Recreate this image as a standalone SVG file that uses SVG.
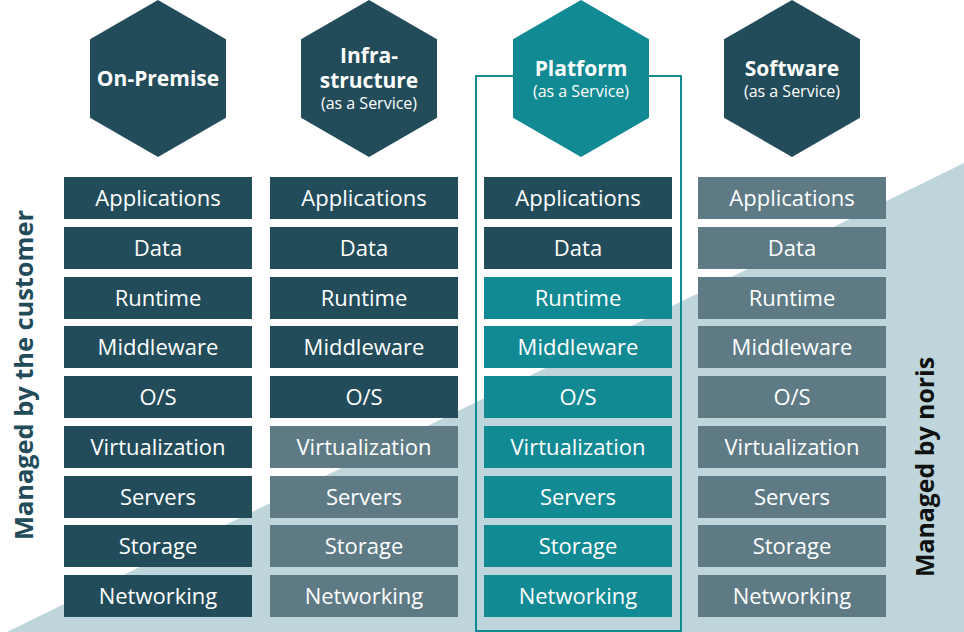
<svg xmlns="http://www.w3.org/2000/svg" width="964" height="632" viewBox="0 0 964 632">
<style>
  .dk{fill:#234c5a}
  .tl{fill:#128a94}
  .gy{fill:#5e7a84}
  .bt{font-family:"Open Sans","Liberation Sans",sans-serif;font-size:22px;fill:#ffffff;text-anchor:middle}
  .ht{font-family:"Open Sans","Liberation Sans",sans-serif;font-size:21px;font-weight:bold;fill:#ffffff;text-anchor:middle}
  .hs{font-family:"Open Sans","Liberation Sans",sans-serif;font-size:16px;fill:#ffffff;text-anchor:middle}
  .side{font-family:"Open Sans","Liberation Sans",sans-serif;font-size:25px;font-weight:bold;text-anchor:middle}
</style>
<rect x="0" y="0" width="964" height="632" fill="#ffffff"/>
<polygon points="7,632 964,163 964,632" fill="#bdd5db"/>

<rect id="platform-outline" x="476" y="76" width="205" height="555" fill="none" stroke="#128a94" stroke-width="2"/>

<g id="hex-onpremise">
  <polygon class="dk" points="158,0 226,39.3 226,117.7 158,157 90,117.7 90,39.3"/>
  <text class="ht" x="158" y="86">On-Premise</text>
</g>
<g id="hex-infrastructure">
  <polygon class="dk" points="369,0 437,39.3 437,117.7 369,157 301,117.7 301,39.3"/>
  <text class="ht" x="369" y="63">Infra-</text>
  <text class="ht" x="369" y="87.5">structure</text>
  <text class="hs" x="369" y="109">(as a Service)</text>
</g>
<g id="hex-platform">
  <polygon class="tl" points="581,0 649,39.3 649,117.7 581,157 513,117.7 513,39.3"/>
  <text class="ht" x="581" y="76">Platform</text>
  <text class="hs" x="581" y="97">(as a Service)</text>
</g>
<g id="hex-software">
  <polygon class="dk" points="792,0 860,39.3 860,117.7 792,157 724,117.7 724,39.3"/>
  <text class="ht" x="792" y="76">Software</text>
  <text class="hs" x="792" y="97">(as a Service)</text>
</g>

<g id="col-onpremise">
  <rect class="dk" x="64" y="177" width="188" height="42"/><text class="bt" x="158" y="205.5">Applications</text>
  <rect class="dk" x="64" y="227" width="188" height="42"/><text class="bt" x="158" y="255.5">Data</text>
  <rect class="dk" x="64" y="277" width="188" height="42"/><text class="bt" x="158" y="305.5">Runtime</text>
  <rect class="dk" x="64" y="326" width="188" height="42"/><text class="bt" x="158" y="354.5">Middleware</text>
  <rect class="dk" x="64" y="376" width="188" height="42"/><text class="bt" x="158" y="404.5">O/S</text>
  <rect class="dk" x="64" y="426" width="188" height="42"/><text class="bt" x="158" y="454.5">Virtualization</text>
  <rect class="dk" x="64" y="476" width="188" height="42"/><text class="bt" x="158" y="504.5">Servers</text>
  <rect class="dk" x="64" y="525" width="188" height="42"/><text class="bt" x="158" y="553.5">Storage</text>
  <rect class="dk" x="64" y="575" width="188" height="42"/><text class="bt" x="158" y="603.5">Networking</text>
</g>

<g id="col-infrastructure">
  <rect class="dk" x="270" y="177" width="188" height="42"/><text class="bt" x="364" y="205.5">Applications</text>
  <rect class="dk" x="270" y="227" width="188" height="42"/><text class="bt" x="364" y="255.5">Data</text>
  <rect class="dk" x="270" y="277" width="188" height="42"/><text class="bt" x="364" y="305.5">Runtime</text>
  <rect class="dk" x="270" y="326" width="188" height="42"/><text class="bt" x="364" y="354.5">Middleware</text>
  <rect class="dk" x="270" y="376" width="188" height="42"/><text class="bt" x="364" y="404.5">O/S</text>
  <rect class="gy" x="270" y="426" width="188" height="42"/><text class="bt" x="364" y="454.5">Virtualization</text>
  <rect class="gy" x="270" y="476" width="188" height="42"/><text class="bt" x="364" y="504.5">Servers</text>
  <rect class="gy" x="270" y="525" width="188" height="42"/><text class="bt" x="364" y="553.5">Storage</text>
  <rect class="gy" x="270" y="575" width="188" height="42"/><text class="bt" x="364" y="603.5">Networking</text>
</g>

<g id="col-platform">
  <rect class="dk" x="484" y="177" width="188" height="42"/><text class="bt" x="578" y="205.5">Applications</text>
  <rect class="dk" x="484" y="227" width="188" height="42"/><text class="bt" x="578" y="255.5">Data</text>
  <rect class="tl" x="484" y="277" width="188" height="42"/><text class="bt" x="578" y="305.5">Runtime</text>
  <rect class="tl" x="484" y="326" width="188" height="42"/><text class="bt" x="578" y="354.5">Middleware</text>
  <rect class="tl" x="484" y="376" width="188" height="42"/><text class="bt" x="578" y="404.5">O/S</text>
  <rect class="tl" x="484" y="426" width="188" height="42"/><text class="bt" x="578" y="454.5">Virtualization</text>
  <rect class="tl" x="484" y="476" width="188" height="42"/><text class="bt" x="578" y="504.5">Servers</text>
  <rect class="tl" x="484" y="525" width="188" height="42"/><text class="bt" x="578" y="553.5">Storage</text>
  <rect class="tl" x="484" y="575" width="188" height="42"/><text class="bt" x="578" y="603.5">Networking</text>
</g>

<g id="col-software">
  <rect class="gy" x="698" y="177" width="188" height="42"/><text class="bt" x="792" y="205.5">Applications</text>
  <rect class="gy" x="698" y="227" width="188" height="42"/><text class="bt" x="792" y="255.5">Data</text>
  <rect class="gy" x="698" y="277" width="188" height="42"/><text class="bt" x="792" y="305.5">Runtime</text>
  <rect class="gy" x="698" y="326" width="188" height="42"/><text class="bt" x="792" y="354.5">Middleware</text>
  <rect class="gy" x="698" y="376" width="188" height="42"/><text class="bt" x="792" y="404.5">O/S</text>
  <rect class="gy" x="698" y="426" width="188" height="42"/><text class="bt" x="792" y="454.5">Virtualization</text>
  <rect class="gy" x="698" y="476" width="188" height="42"/><text class="bt" x="792" y="504.5">Servers</text>
  <rect class="gy" x="698" y="525" width="188" height="42"/><text class="bt" x="792" y="553.5">Storage</text>
  <rect class="gy" x="698" y="575" width="188" height="42"/><text class="bt" x="792" y="603.5">Networking</text>
</g>

<g id="label-customer">
  <text class="side" fill="#234c5a" transform="translate(32.5,375) rotate(-90)" textLength="330" lengthAdjust="spacingAndGlyphs">Managed by the customer</text>
</g>
<g id="label-noris">
  <text class="side" fill="#111111" transform="translate(934,467) rotate(-90)" textLength="220" lengthAdjust="spacingAndGlyphs">Managed by noris</text>
</g>
</svg>
